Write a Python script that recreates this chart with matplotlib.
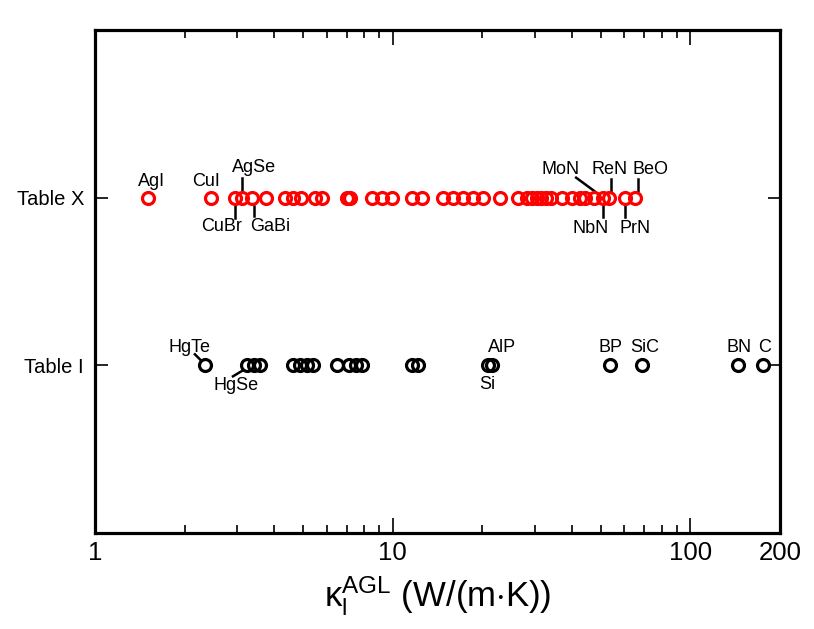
import numpy as np
import matplotlib
matplotlib.use('Agg')
import matplotlib.pyplot as plt
from matplotlib.ticker import FixedLocator, LogLocator, NullFormatter
from matplotlib.transforms import offset_copy

plt.rcParams['font.family'] = ['Liberation Sans', 'DejaVu Sans']
plt.rcParams['mathtext.fontset'] = 'custom'
plt.rcParams['mathtext.rm'] = 'Liberation Sans'
plt.rcParams['mathtext.it'] = 'Liberation Sans'

# kappa_l^AGL values (W/(m K))
table_x_vals = [1.51, 2.45, 2.95, 3.12, 3.37, 3.75, 4.35, 4.63, 4.92, 5.48,
                5.79, 7.02, 7.19, 8.52, 9.21, 9.95, 11.6, 12.5, 14.8, 15.9,
                17.2, 18.6, 20.1, 22.9, 26.4, 28.3, 29.4, 30.5, 31.5, 32.7,
                34.0, 37.0, 40.0, 42.6, 44.3, 47.5, 50.9, 53.3, 60.3, 65.2]
table_i_vals = [2.34, 3.24, 3.42, 3.58, 4.63, 4.88, 5.15, 5.40, 6.50, 7.13,
                7.53, 7.89, 11.6, 12.2, 20.9, 21.6, 53.7, 68.8, 144.5, 175.3]

table_x_names = ['AgI', 'CuI', 'CuBr', 'AgSe', 'GaBi', 'MoN', 'NbN', 'ReN', 'PrN', 'BeO']
table_x_named = [1.51, 2.45, 2.95, 3.12, 3.37, 47.5, 50.9, 53.3, 60.3, 65.2]
table_i_names = ['HgTe', 'HgSe', 'Si', 'AlP', 'BP', 'SiC', 'BN', 'C']
table_i_named = [2.34, 3.24, 20.9, 21.6, 53.7, 68.8, 144.5, 175.3]

row_labels = ['Table I', 'Table X']

# label placement in pixels: text offset, optional leader line
x_label_style = {
    'AgI': ((3, 16), None), 'CuI': ((-5, 16), None),
    'CuBr': ((-13, -29), ((0, -8), (0, -20))),
    'AgSe': ((12, 30), ((0, 8), (0, 20))),
    'GaBi': ((18, -29), ((2, -8), (2, -18))),
    'MoN': ((-34, 28), ((-18, 20), (1, 6))),
    'NbN': ((-12, -31), ((0, -7), (0, -19))),
    'ReN': ((1, 28), ((2, 7), (2, 19))),
    'PrN': ((10, -31), ((0, -7), (0, -19))),
    'BeO': ((15, 28), ((3, 7), (3, 19))),
}
i_label_style = {
    'HgTe': ((-15, 18), ((-10, 11), (-4, 5))),
    'HgSe': ((-11, -20), ((-14, -11), (-4, -5))),
    'Si': ((-1, -19), None), 'AlP': ((10, 18), None),
    'BP': ((0, 18), None), 'SiC': ((3, 18), None),
    'BN': ((1, 18), None), 'C': ((2, 18), None),
}

fig = plt.figure(figsize=(8.14, 6.29), dpi=100)
ax = fig.add_axes([95/814, 1-533/629, 685/814, 503/629])

ms = 8.6
mew = 2.3
ax.plot(table_x_vals, [2]*len(table_x_vals), 'o', mfc='none', mec='red', ms=ms, mew=mew, zorder=3)
ax.plot(table_i_vals, [1]*len(table_i_vals), 'o', mfc='none', mec='black', ms=ms, mew=mew, zorder=3)


def put_labels(names, vals, yrow, style):
    for n, v in zip(names, vals):
        (tdx, tdy), line = style[n]
        tr = offset_copy(ax.transData, fig=fig, x=tdx, y=tdy, units='dots')
        ax.text(v, yrow, n, transform=tr, ha='center', va='center', fontsize=13)
        if line is not None:
            (x0, y0), (x1, y1) = line
            p0 = ax.transData.transform((v, yrow))
            inv = ax.transData.inverted()
            a = inv.transform((p0[0]+x0, p0[1]+y0))
            b = inv.transform((p0[0]+x1, p0[1]+y1))
            ax.plot([a[0], b[0]], [a[1], b[1]], color='black', lw=1.8, zorder=2)


ax.set_xscale('log')
ax.set_xlim(1, 200)
ax.set_ylim(0, 3)

put_labels(table_x_names, table_x_named, 2, x_label_style)
put_labels(table_i_names, table_i_named, 1, i_label_style)

ax.xaxis.set_major_locator(FixedLocator([1, 10, 100, 200]))
ax.set_xticklabels(['1', '10', '100', '200'])
ax.xaxis.set_minor_locator(LogLocator(base=10, subs=np.arange(2, 10)))
ax.xaxis.set_minor_formatter(NullFormatter())
ax.set_yticks([1, 2])
ax.set_yticklabels(row_labels)

ax.tick_params(axis='x', which='major', direction='in', top=True, length=11, width=1.2,
               labelsize=18.5, pad=6)
ax.tick_params(axis='x', which='minor', direction='in', top=True, length=6, width=1.2)
ax.tick_params(axis='y', which='major', direction='in', right=True, length=9, width=1.2,
               labelsize=14.5, pad=8)
for s in ax.spines.values():
    s.set_linewidth(2.3)

ax.set_xlabel(r'$\mathrm{\kappa}_\mathrm{l}^\mathrm{AGL}$ (W/(m$\cdot$K))', fontsize=25, labelpad=6)

plt.savefig('out.png', dpi=100)
